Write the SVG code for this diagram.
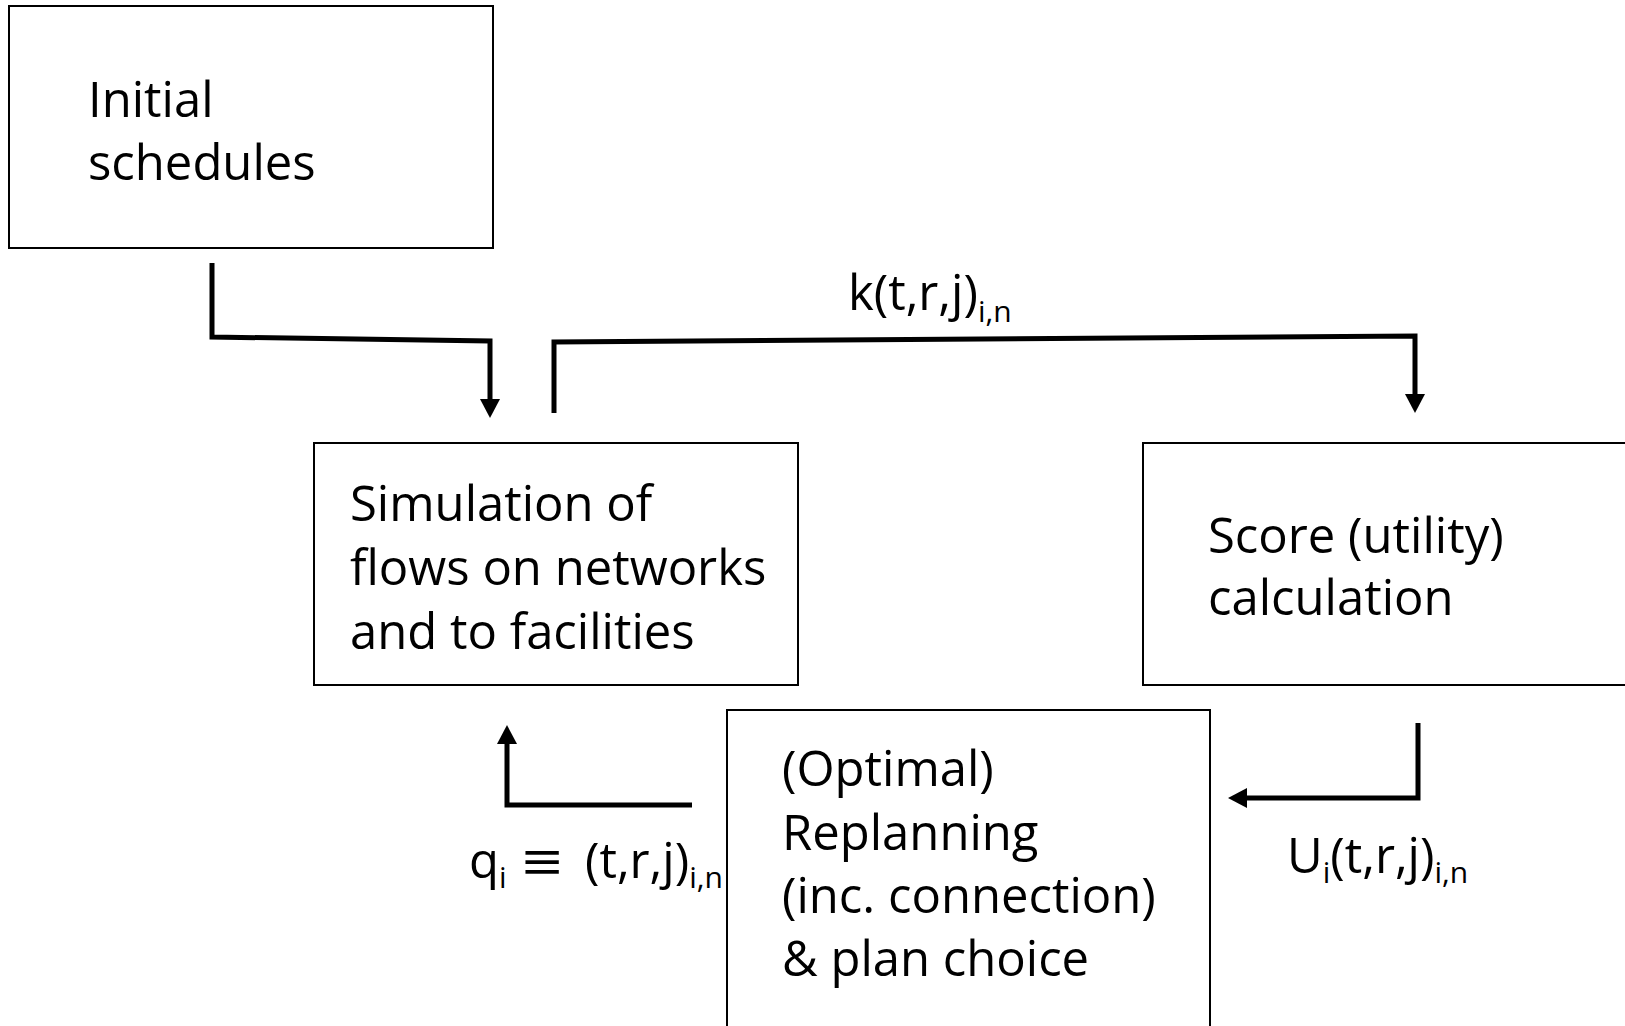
<svg xmlns="http://www.w3.org/2000/svg" width="1625" height="1026" viewBox="0 0 1625 1026">
<style>
  .box { fill: #ffffff; stroke: #000000; stroke-width: 2; }
  .t { font-family: "Open Sans", "Noto Sans", "DejaVu Sans", sans-serif; font-size: 49px; fill: #000000; }
  .sub { font-size: 30px; }
  .conn { fill: none; stroke: #000000; stroke-width: 5; stroke-linejoin: miter; stroke-linecap: butt; }
</style>
<defs>
  <marker id="arrow" viewBox="0 0 19 20" refX="0" refY="10" markerWidth="19" markerHeight="20" markerUnits="userSpaceOnUse" orient="auto">
    <path d="M0,0 L19,10 L0,20 Z" fill="#000000"/>
  </marker>
</defs>
<rect width="1625" height="1026" fill="#ffffff"/>

<g id="node-initial">
  <rect class="box" x="9" y="6" width="484" height="242"/>
  <text class="t" x="88" y="117">Initial</text>
  <text class="t" x="88" y="180">schedules</text>
</g>

<g id="node-simulation">
  <rect class="box" x="314" y="443" width="484" height="242"/>
  <text class="t" x="350" y="521">Simulation of</text>
  <text class="t" x="350" y="585">flows on networks</text>
  <text class="t" x="350" y="649">and to facilities</text>
</g>

<g id="node-score">
  <rect class="box" x="1143" y="443" width="500" height="242"/>
  <text class="t" x="1208" y="553">Score (utility)</text>
  <text class="t" x="1208" y="615">calculation</text>
</g>

<g id="node-replanning">
  <rect class="box" x="727" y="710" width="483" height="340"/>
  <text class="t" x="782" y="786">(Optimal)</text>
  <text class="t" x="782" y="850">Replanning</text>
  <text class="t" x="782" y="913">(inc. connection)</text>
  <text class="t" x="782" y="976">&amp; plan choice</text>
</g>

<g id="connectors">
  <path class="conn" d="M212,263 L212,337 L490,341 L490,399" marker-end="url(#arrow)"/>
  <path class="conn" d="M554,413 L554,342 L1415,336 L1415,394" marker-end="url(#arrow)"/>
  <path class="conn" d="M1418,723 L1418,798 L1247,798" marker-end="url(#arrow)"/>
  <path class="conn" d="M692,805 L507,805 L507,744" marker-end="url(#arrow)"/>
</g>

<g id="labels">
  <text class="t" x="848" y="310">k(t,r,j)<tspan class="sub" dy="12">i,n</tspan></text>
  <text class="t" x="469" y="878">q<tspan class="sub" dy="10">i</tspan><tspan x="585" dy="-10">(t,r,j)</tspan><tspan class="sub" dy="10">i,n</tspan></text>
  <text class="t" font-size="62" font-weight="300" transform="translate(522,880) scale(1.4,1.1)">≡</text>
  <text class="t" x="1287" y="873">U<tspan class="sub" dy="10">i</tspan><tspan dy="-10">(t,r,j)</tspan><tspan class="sub" dy="10">i,n</tspan></text>
</g>
</svg>
